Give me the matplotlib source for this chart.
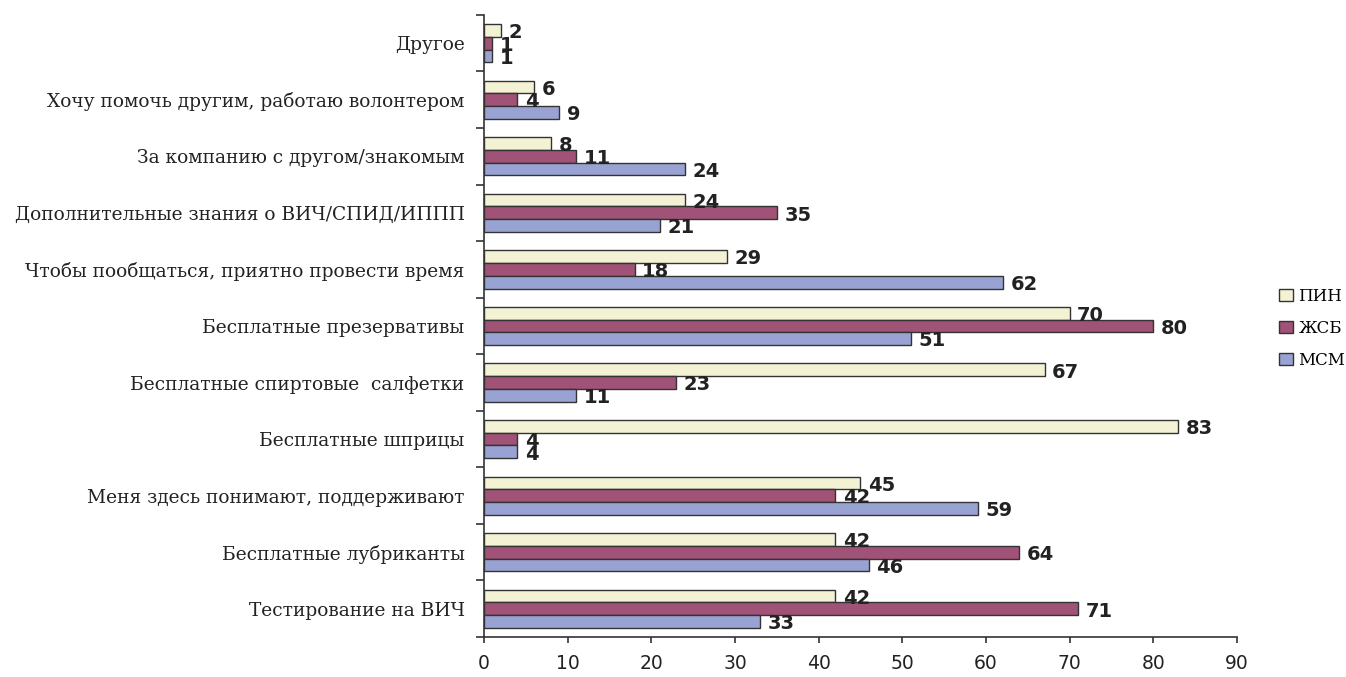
import numpy as np
import matplotlib.pyplot as plt
from matplotlib.patches import Patch

# categories from bottom to top
categories = [
    'Тестирование на ВИЧ',
    'Бесплатные лубриканты',
    'Меня здесь понимают, поддерживают',
    'Бесплатные шприцы',
    'Бесплатные спиртовые  салфетки',
    'Бесплатные презервативы',
    'Чтобы пообщаться, приятно провести время',
    'Дополнительные знания о ВИЧ/СПИД/ИППП',
    'За компанию с другом/знакомым',
    'Хочу помочь другим, работаю волонтером',
    'Другое',
]
pin = [42, 42, 45, 83, 67, 70, 29, 24, 8, 6, 2]
zhsb = [71, 64, 42, 4, 23, 80, 18, 35, 11, 4, 1]
msm = [33, 46, 59, 4, 11, 51, 62, 21, 24, 9, 1]
series_names = ['ПИН', 'ЖСБ', 'МСМ']
x_ticks = [0, 10, 20, 30, 40, 50, 60, 70, 80, 90]

colors = ['#f4f2d4', '#a05277', '#99a3d3']
edge = '#333333'
label_font = ['DejaVu Serif']
num_font = ['DejaVu Sans']

fig = plt.figure(figsize=(13.46, 6.77), dpi=100)
ax = fig.add_axes([0.3596, 0.059, 0.5594, 0.919])

y = np.arange(len(categories))
h = 0.225
offsets = [h, 0, -h]
for vals, off, col in zip([pin, zhsb, msm], offsets, colors):
    bars = ax.barh(y + off, vals, height=h, color=col, edgecolor=edge, linewidth=1.0)
    for b, v in zip(bars, vals):
        ax.text(v + 0.9, b.get_y() + b.get_height() / 2 - 0.04, str(v),
                va='center', ha='left', fontsize=14, fontweight='bold',
                family=num_font, color='#222222')

ax.set_xlim(0, 90)
ax.set_ylim(-0.5, len(categories) - 0.5)
ax.set_xticks(x_ticks)
ax.set_xticklabels([str(t) for t in x_ticks], fontsize=13.5, family=num_font, color='#222222')
ax.set_yticks(y)
ax.set_yticklabels(categories, fontsize=13.4, family=label_font, color='#222222')
ax.set_yticks(np.arange(len(categories) + 1) - 0.5, minor=True)
ax.tick_params(axis='y', which='major', length=0, pad=14)
ax.tick_params(axis='y', which='minor', length=6, width=1.2, direction='out', color='#333333')
ax.tick_params(axis='x', length=4, width=1.2, direction='out', color='#333333', pad=8)

for s in ['top', 'right']:
    ax.spines[s].set_visible(False)
for s in ['left', 'bottom']:
    ax.spines[s].set_linewidth(1.2)
    ax.spines[s].set_color('#333333')

handles = [Patch(facecolor=c, edgecolor=edge, label=n) for c, n in zip(colors, series_names)]
fig.legend(handles=handles, loc='center left', bbox_to_anchor=(0.948, 0.515),
           frameon=False, prop={'family': label_font, 'size': 12},
           handlelength=0.8, handleheight=0.8, handletextpad=0.35, labelspacing=0.9,
           borderpad=0.2, borderaxespad=0.0)

fig.savefig('out.png', dpi=100)
